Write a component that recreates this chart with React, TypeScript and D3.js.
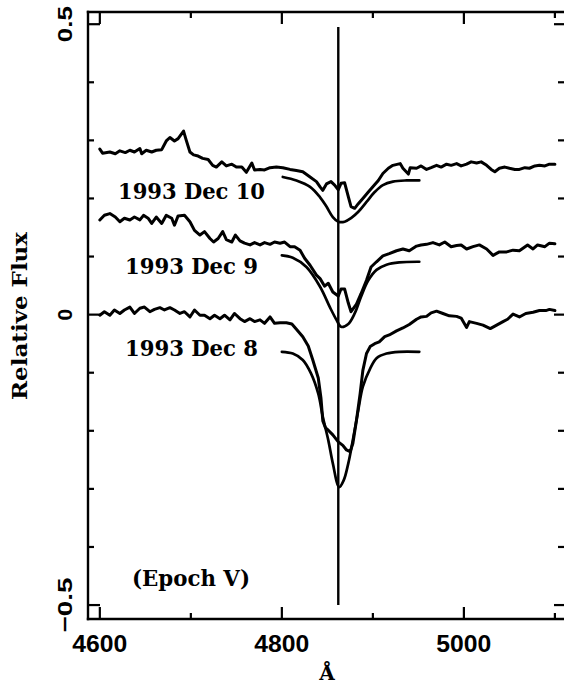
import React from 'react';
import * as d3 from 'd3';

// Frame geometry
const W = 564;
const H = 686;
const LEFT = 88;
const RIGHT = 564;
const TOP = 12;
const BOTTOM = 619;

// Axis ticks
const xTicksMajor = [4600, 4800, 5000];
const xTicksMinor = [4700, 4900, 5100];
const yTicksMajor = [0.5, 0, -0.5];
const yTicksMinor = [0.4, 0.3, 0.2, 0.1, -0.1, -0.2, -0.3, -0.4];
const xTickLabels = ['4600', '4800', '5000'];
const yTickLabels = ['0.5', '0', '\u22120.5'];

// Rest wavelength of H-beta marker
const hBeta = 4862;
const hBetaRange = [-0.5, 0.495];

// Observed spectra [wavelength, relative flux]
const dec10Obs: [number, number][] = [
  [4600, 0.285], [4603, 0.278], [4611, 0.28], [4617, 0.277], [4622, 0.282], [4628, 0.279],
  [4633, 0.283], [4638, 0.28], [4644, 0.286], [4646, 0.277], [4651, 0.283], [4657, 0.28],
  [4662, 0.283], [4668, 0.284], [4673, 0.299], [4677, 0.305], [4682, 0.299], [4686, 0.303],
  [4692, 0.316], [4695, 0.3], [4699, 0.28], [4703, 0.275], [4708, 0.273], [4713, 0.269],
  [4719, 0.267], [4724, 0.257], [4728, 0.254], [4734, 0.263], [4739, 0.256], [4745, 0.259],
  [4750, 0.254], [4756, 0.254], [4761, 0.245], [4767, 0.261], [4770, 0.249], [4776, 0.25],
  [4781, 0.249], [4787, 0.253], [4794, 0.254], [4801, 0.253], [4809, 0.25], [4816, 0.248],
  [4823, 0.246], [4831, 0.237], [4838, 0.229], [4842, 0.22], [4845, 0.214], [4849, 0.225],
  [4854, 0.229], [4858, 0.223], [4862, 0.215], [4865, 0.226], [4869, 0.227], [4873, 0.203],
  [4876, 0.186], [4880, 0.183], [4884, 0.191], [4889, 0.2], [4895, 0.211], [4900, 0.22],
  [4906, 0.231], [4911, 0.243], [4917, 0.252], [4922, 0.257], [4930, 0.26], [4933, 0.252],
  [4939, 0.242], [4941, 0.253], [4948, 0.252], [4953, 0.256], [4959, 0.25], [4964, 0.253],
  [4970, 0.257], [4975, 0.254], [4981, 0.259], [4986, 0.257], [4992, 0.26], [4997, 0.256],
  [5003, 0.259], [5008, 0.263], [5014, 0.261], [5019, 0.263], [5025, 0.257], [5030, 0.25],
  [5034, 0.246], [5039, 0.252], [5045, 0.254], [5050, 0.252], [5056, 0.25], [5061, 0.25],
  [5067, 0.253], [5072, 0.252], [5078, 0.256], [5083, 0.257], [5089, 0.256], [5094, 0.259],
  [5100, 0.259],
];

const dec9Obs: [number, number][] = [
  [4600, 0.163], [4605, 0.171], [4611, 0.174], [4617, 0.168], [4622, 0.16], [4627, 0.166],
  [4633, 0.163], [4638, 0.168], [4644, 0.163], [4648, 0.171], [4653, 0.166], [4657, 0.157],
  [4662, 0.168], [4668, 0.157], [4673, 0.171], [4679, 0.166], [4682, 0.154], [4686, 0.17],
  [4693, 0.171], [4699, 0.16], [4704, 0.145], [4710, 0.137], [4715, 0.143], [4721, 0.131],
  [4725, 0.125], [4730, 0.131], [4735, 0.143], [4739, 0.129], [4745, 0.125], [4749, 0.137],
  [4754, 0.127], [4759, 0.123], [4765, 0.12], [4770, 0.124], [4776, 0.12], [4781, 0.124],
  [4787, 0.121], [4792, 0.125], [4798, 0.123], [4803, 0.125], [4809, 0.117], [4814, 0.117],
  [4820, 0.111], [4825, 0.097], [4831, 0.085], [4838, 0.068], [4842, 0.062], [4847, 0.049],
  [4851, 0.054], [4856, 0.039], [4862, 0.032], [4865, 0.044], [4869, 0.044], [4873, 0.02],
  [4876, 0.005], [4882, 0.018], [4887, 0.036], [4893, 0.059], [4898, 0.082], [4904, 0.091],
  [4911, 0.101], [4918, 0.105], [4926, 0.11], [4933, 0.113], [4940, 0.11], [4948, 0.118],
  [4953, 0.12], [4959, 0.121], [4966, 0.124], [4973, 0.12], [4979, 0.125], [4986, 0.117],
  [4992, 0.119], [4997, 0.12], [5003, 0.113], [5010, 0.117], [5017, 0.12], [5025, 0.113],
  [5032, 0.102], [5039, 0.108], [5047, 0.108], [5054, 0.111], [5061, 0.11], [5070, 0.12],
  [5076, 0.113], [5081, 0.12], [5089, 0.117], [5094, 0.123], [5100, 0.122],
];

const dec8Obs: [number, number][] = [
  [4600, -0.001], [4605, 0.005], [4611, -0.001], [4616, 0.008], [4622, 0.002], [4627, 0.008],
  [4633, 0.013], [4638, 0.002], [4644, 0.011], [4649, 0.013], [4655, 0.005], [4660, 0.009],
  [4666, 0.012], [4671, 0.008], [4677, 0.012], [4682, 0.008], [4688, 0.002], [4693, 0.005],
  [4699, -0.004], [4704, 0.008], [4710, -0.001], [4715, -0.001], [4721, -0.007], [4726, -0.001],
  [4732, -0.007], [4737, -0.001], [4743, -0.009], [4748, 0.002], [4754, -0.007], [4759, -0.012],
  [4765, -0.007], [4770, -0.012], [4776, -0.009], [4781, -0.015], [4787, -0.004], [4792, -0.015],
  [4798, -0.014], [4805, -0.014], [4811, -0.016], [4816, -0.025], [4823, -0.038], [4829, -0.054],
  [4834, -0.078], [4840, -0.109], [4843, -0.144], [4845, -0.183], [4848, -0.195], [4851, -0.199],
  [4856, -0.207], [4862, -0.219], [4867, -0.225], [4871, -0.233], [4875, -0.236], [4878, -0.222],
  [4882, -0.182], [4886, -0.136], [4889, -0.096], [4893, -0.067], [4897, -0.055], [4902, -0.05],
  [4907, -0.047], [4913, -0.038], [4918, -0.035], [4926, -0.028], [4933, -0.023], [4940, -0.017],
  [4948, -0.008], [4953, -0.004], [4959, -0.003], [4964, 0.003], [4970, 0.006], [4977, 0.002],
  [4984, -0.002], [4992, -0.003], [4997, -0.006], [5003, -0.022], [5006, -0.012], [5014, -0.015],
  [5021, -0.018], [5029, -0.024], [5036, -0.018], [5043, -0.012], [5048, -0.008], [5054, 0.001],
  [5061, -0.004], [5068, 0.002], [5076, 0.004], [5083, 0.007], [5090, 0.007], [5094, 0.009],
  [5100, 0.007],
];

// Model line profiles
const dec10Model: [number, number][] = [
  [4801, 0.237], [4816, 0.231], [4831, 0.22], [4842, 0.202], [4849, 0.186], [4856, 0.168],
  [4862, 0.16], [4869, 0.16], [4876, 0.166], [4884, 0.177], [4893, 0.194], [4902, 0.211],
  [4911, 0.223], [4922, 0.229], [4937, 0.231], [4951, 0.231],
];

const dec9Model: [number, number][] = [
  [4800, 0.102], [4812, 0.098], [4827, 0.082], [4842, 0.048], [4853, 0.012], [4860, -0.009],
  [4865, -0.021], [4873, -0.016], [4880, 0.002], [4887, 0.031], [4895, 0.059], [4904, 0.077],
  [4915, 0.086], [4929, 0.09], [4951, 0.091],
];

const dec8Model: [number, number][] = [
  [4800, -0.064], [4812, -0.067], [4823, -0.078], [4832, -0.101], [4840, -0.136], [4845, -0.176],
  [4851, -0.216], [4856, -0.256], [4863, -0.297], [4868, -0.285], [4873, -0.256], [4878, -0.216],
  [4884, -0.164], [4889, -0.124], [4897, -0.093], [4904, -0.075], [4915, -0.067], [4929, -0.064],
  [4951, -0.064],
];

const epochLabels = ['1993 Dec 10', '1993 Dec 9', '1993 Dec 8'];

const SERIF = "'DejaVu Serif', serif";
const SANS = "'Liberation Sans', Arial, sans-serif";

export default function App() {
  const x = d3.scaleLinear().domain([4587, 5110]).range([LEFT, RIGHT]);
  const y = d3.scaleLinear().domain([-0.524, 0.521]).range([BOTTOM, TOP]);

  const obsLine = d3
    .line<[number, number]>()
    .x((d) => x(d[0]))
    .y((d) => y(d[1]))
    .curve(d3.curveLinear);

  const modelLine = d3
    .line<[number, number]>()
    .x((d) => x(d[0]))
    .y((d) => y(d[1]))
    .curve(d3.curveCatmullRom.alpha(0.5));

  const observed = [dec10Obs, dec9Obs, dec8Obs];
  const models = [dec10Model, dec9Model, dec8Model];

  return (
    <svg
      width={W}
      height={H}
      viewBox={`0 0 ${W} ${H}`}
      style={{ position: 'absolute', left: 0, top: 0, background: '#fff' }}
    >
      <rect x={0} y={0} width={W} height={H} fill="#fff" />

      {/* frame */}
      <g stroke="#000" strokeWidth={2.4} fill="none" strokeLinecap="square">
        <line x1={LEFT} y1={TOP} x2={RIGHT} y2={TOP} />
        <line x1={LEFT} y1={BOTTOM} x2={RIGHT} y2={BOTTOM} />
        <line x1={LEFT} y1={TOP} x2={LEFT} y2={BOTTOM} />
      </g>

      {/* ticks */}
      <g stroke="#000" strokeWidth={2.2} fill="none">
        {xTicksMajor.map((t) => (
          <g key={`xM${t}`}>
            <line x1={x(t)} x2={x(t)} y1={TOP} y2={TOP + 12} />
            <line x1={x(t)} x2={x(t)} y1={BOTTOM} y2={BOTTOM - 12} />
          </g>
        ))}
        {xTicksMinor.map((t) => (
          <g key={`xm${t}`}>
            <line x1={x(t)} x2={x(t)} y1={TOP} y2={TOP + 6} />
            <line x1={x(t)} x2={x(t)} y1={BOTTOM} y2={BOTTOM - 6} />
          </g>
        ))}
        {yTicksMajor.map((t) => (
          <g key={`yM${t}`}>
            <line x1={LEFT} x2={LEFT + 12} y1={y(t)} y2={y(t)} />
            <line x1={RIGHT} x2={RIGHT - 10} y1={y(t)} y2={y(t)} />
          </g>
        ))}
        {yTicksMinor.map((t) => (
          <g key={`ym${t}`}>
            <line x1={LEFT} x2={LEFT + 6} y1={y(t)} y2={y(t)} />
            <line x1={RIGHT} x2={RIGHT - 6} y1={y(t)} y2={y(t)} />
          </g>
        ))}
      </g>

      {/* tick labels */}
      <g fontFamily={SANS} fontWeight="bold" fontSize={23} fill="#000">
        {xTicksMajor.map((t, i) => (
          <text key={`xl${t}`} x={x(t)} y={652} textAnchor="middle" textLength={55} lengthAdjust="spacingAndGlyphs">
            {xTickLabels[i]}
          </text>
        ))}
        {yTicksMajor.map((t, i) => (
          <text
            key={`yl${t}`}
            transform={`translate(72, ${y(t)}) rotate(-90)`}
            textAnchor="middle"
            fontSize={21}
            {...(i === 1 ? {} : { textLength: i === 0 ? 36 : 55, lengthAdjust: 'spacingAndGlyphs' })}
          >
            {yTickLabels[i]}
          </text>
        ))}
      </g>

      {/* axis titles */}
      <g fontFamily={SERIF} fontWeight="bold" fill="#000">
        <text x={327} y={680} textAnchor="middle" fontSize={20}>
          Å
        </text>
        <text
          transform={`translate(27, 316) rotate(-90)`}
          textAnchor="middle"
          fontSize={20}
          textLength={168}
          lengthAdjust="spacingAndGlyphs"
        >
          Relative Flux
        </text>
      </g>

      {/* H-beta rest wavelength */}
      <line
        x1={x(hBeta)}
        x2={x(hBeta)}
        y1={y(hBetaRange[0])}
        y2={y(hBetaRange[1])}
        stroke="#000"
        strokeWidth={2.4}
      />

      {/* spectra */}
      <g fill="none" stroke="#000" strokeLinejoin="round" strokeLinecap="round">
        {observed.map((s, i) => (
          <path key={`obs${i}`} d={obsLine(s) || ''} strokeWidth={3} />
        ))}
        {models.map((s, i) => (
          <path key={`mod${i}`} d={modelLine(s) || ''} strokeWidth={2.7} />
        ))}
      </g>

      {/* epoch labels */}
      <g fontFamily={SERIF} fontWeight="bold" fill="#000" fontSize={23}>
        <text x={118} y={199} textLength={147} lengthAdjust="spacingAndGlyphs">
          {epochLabels[0]}
        </text>
        <text x={125} y={274} textLength={133} lengthAdjust="spacingAndGlyphs">
          {epochLabels[1]}
        </text>
        <text x={125} y={356} textLength={133} lengthAdjust="spacingAndGlyphs">
          {epochLabels[2]}
        </text>
        <text x={132} y={586} fontSize={22} textLength={118} lengthAdjust="spacingAndGlyphs">
          (Epoch V)
        </text>
      </g>
    </svg>
  );
}
